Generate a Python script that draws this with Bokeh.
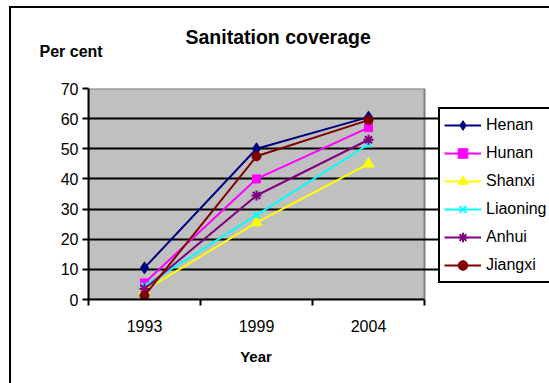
from bokeh.plotting import figure
from bokeh.models import (Legend, LegendItem, FixedTicker, Label, Range1d,
                          BoxAnnotation, InlineStyleSheet)
from bokeh.embed import file_html
from bokeh.resources import INLINE

# Sanitation coverage by province (per cent of rural households)
years = ["1993", "1999", "2004"]
henan = [10.5, 50.0, 60.5]
hunan = [5.5, 40.0, 57.0]
shanxi = [3.0, 25.5, 45.0]
liaoning = [4.5, 28.0, 51.5]
anhui = [3.5, 34.5, 53.0]
jiangxi = [1.3, 47.5, 59.5]
y_ticks = [0, 10, 20, 30, 40, 50, 60, 70]

FONT = "Liberation Sans"

series = [
    ("Henan", henan, "#000080", "diamond", 12),
    ("Hunan", hunan, "#FF00FF", "square", 8),
    ("Shanxi", shanxi, "#FFFF00", "triangle", 11),
    ("Liaoning", liaoning, "#00FFFF", "x", 9),
    ("Anhui", anhui, "#800080", "asterisk", 10),
    ("Jiangxi", jiangxi, "#800000", "circle", 9),
]

W, H = 549, 383
PLOT_LEFT, PLOT_RIGHT = 88, 424      # plot area, pixels from the left
PLOT_TOP, PLOT_BOTTOM = 88, 299      # plot area, pixels from the top

# each year sits in the middle of its own slot on the category axis
n = len(years)
xs = [i + 0.5 for i in range(n)]
slot_edges = list(range(n + 1))
y_max = y_ticks[-1]

# the frame runs on to the right edge so the legend can sit beside the plot area
x_end = n * (W - PLOT_LEFT) / (PLOT_RIGHT - PLOT_LEFT)

p = figure(width=W, height=H, output_backend="svg", toolbar_location=None,
           x_range=Range1d(0, x_end), y_range=Range1d(0, y_max),
           min_border_left=PLOT_LEFT, min_border_right=0,
           min_border_top=PLOT_TOP, min_border_bottom=H - PLOT_BOTTOM)

# chart-area border (left and top edges; the rest runs off the page)
p.stylesheets = [InlineStyleSheet(css="""
:host::after {
  content: "";
  position: absolute;
  left: 9px; top: 6px; right: -12px; bottom: -12px;
  border-left: 2px solid #000;
  border-top: 2px solid #000;
  pointer-events: none;
  z-index: 10;
}
""")]
p.border_fill_color = "white"
p.background_fill_color = "white"
p.outline_line_color = None

# grey plot area with its darker grey edge
p.add_layout(BoxAnnotation(left=0, right=n, bottom=0, top=y_max,
                           fill_color="#C0C0C0", fill_alpha=1,
                           line_color="#808080", line_width=2, line_alpha=1,
                           level="image", editable=False))

# x axis: labels at slot centres, short ticks at slot edges
xa = p.xaxis[0]
xa.bounds = (0, n)
xa.ticker = FixedTicker(ticks=xs, minor_ticks=slot_edges)
xa.major_label_overrides = {x: y for x, y in zip(xs, years)}
xa.major_tick_out = 0
xa.major_tick_in = 0
xa.minor_tick_out = 6
xa.minor_tick_in = 0
xa.minor_tick_line_color = "black"
xa.minor_tick_line_width = 2
xa.axis_line_color = "black"
xa.axis_line_width = 2
xa.major_label_text_font = FONT
xa.major_label_text_font_size = "16px"
xa.major_label_text_color = "black"
xa.major_label_standoff = 14

ya = p.yaxis[0]
ya.ticker = FixedTicker(ticks=y_ticks)
ya.major_tick_out = 6
ya.major_tick_in = 0
ya.minor_tick_out = 0
ya.minor_tick_in = 0
ya.major_tick_line_color = "black"
ya.major_tick_line_width = 2
ya.axis_line_color = "black"
ya.axis_line_width = 2
ya.major_label_text_font = FONT
ya.major_label_text_font_size = "16px"
ya.major_label_text_color = "black"
ya.major_label_standoff = 4

p.xgrid.visible = False
p.ygrid.ticker = FixedTicker(ticks=y_ticks[1:-1])
p.ygrid.bounds = (0, n)
p.ygrid.grid_line_color = "black"
p.ygrid.grid_line_width = 2

items = []
for name, vals, color, marker, size in series:
    ln = p.line(xs, vals, line_color=color, line_width=2)
    mk = p.scatter(xs, vals, marker=marker, size=size, fill_color=color,
                   line_color=color, line_width=2 if marker in ("x", "asterisk") else 1)
    items.append(LegendItem(label=name, renderers=[ln, mk]))

# the legend box runs on past the right edge of the page
legend = Legend(items=items, location=(350, 16),
                label_text_font=FONT, label_text_font_size="16px",
                label_text_color="black", label_width=72,
                glyph_width=37, glyph_height=24, label_height=24,
                label_standoff=5, spacing=4, padding=4, margin=0,
                border_line_color="black", border_line_width=2,
                border_line_alpha=1,
                background_fill_color="white", background_fill_alpha=1)
p.add_layout(legend, "center")

p.add_layout(Label(x=185, y=36.5, x_units="canvas", y_units="canvas",
                   text="Sanitation coverage", text_font=FONT,
                   text_font_size="19.5px", text_font_style="bold",
                   text_color="black", text_align="left",
                   text_baseline="middle"), "above")
p.add_layout(Label(x=39, y=51, x_units="canvas", y_units="canvas",
                   text="Per cent", text_font=FONT,
                   text_font_size="16px", text_font_style="bold",
                   text_color="black", text_align="left",
                   text_baseline="middle"), "above")
p.add_layout(Label(x=255.5, y=355.5, x_units="canvas", y_units="canvas",
                   text="Year", text_font=FONT,
                   text_font_size="15px", text_font_style="bold",
                   text_color="black", text_align="center",
                   text_baseline="middle"), "below")

# keep the page itself from scrolling
page = file_html(p, INLINE)
page = page.replace("</head>",
                    "<style>html, body { margin: 0; overflow: hidden; }</style></head>", 1)
open("out.html", "w").write(page)
